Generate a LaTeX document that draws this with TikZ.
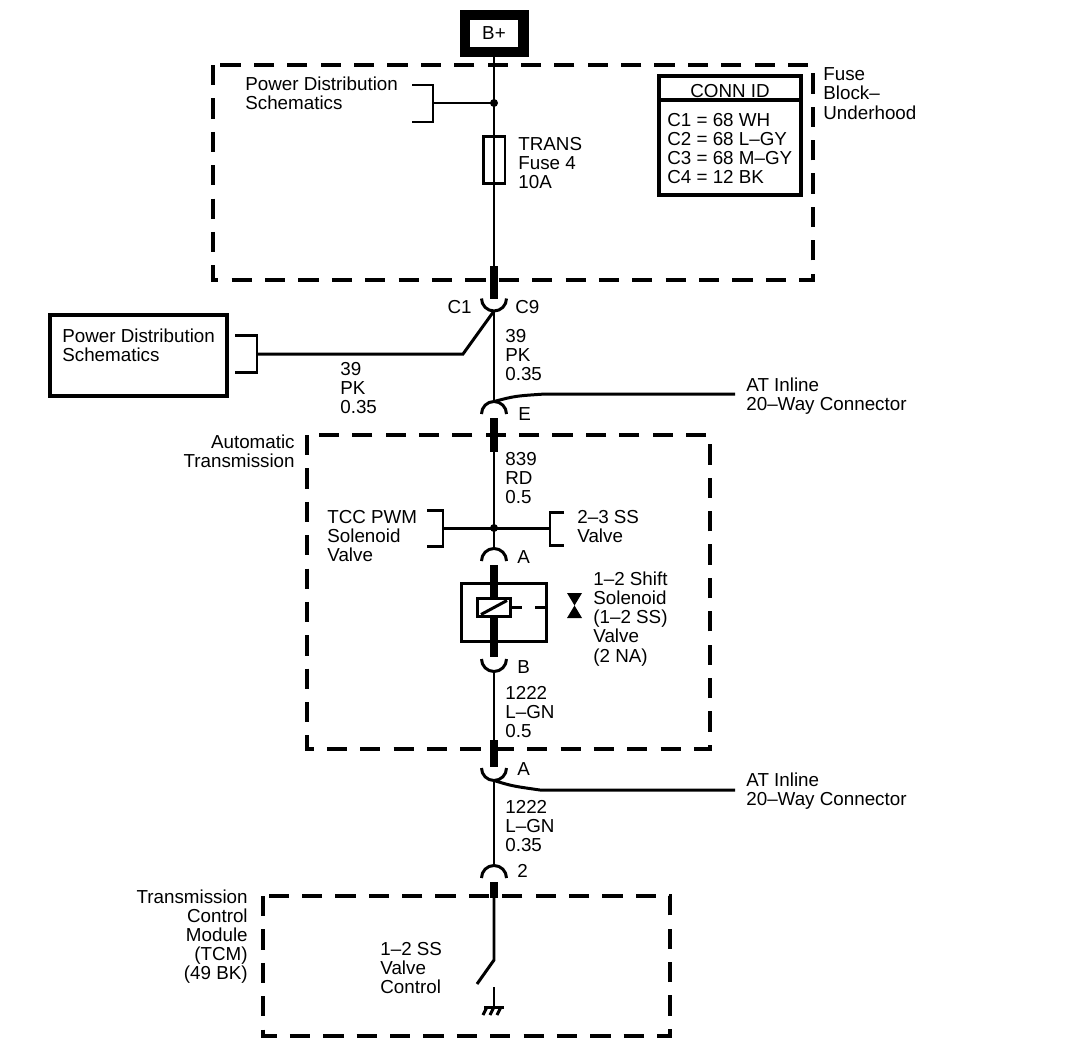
\documentclass[tikz,border=0pt]{standalone}
\usepackage{fontspec}
\setmainfont{Liberation Sans}
\usetikzlibrary{positioning}
\tikzset{
  wire/.style={line width=1.7pt},
  stub/.style={line width=5pt},
  frame/.style={line width=2.3pt, dash pattern=on 11.5pt off 7.5pt},
  boxline/.style={draw, line width=2.3pt, inner sep=0pt},
  txt/.style={inner sep=0pt, align=left, anchor=base west},
  rtxt/.style={inner sep=0pt, align=right, anchor=base east},
  every node/.style={font=\fontsize{10.7}{10.9}\selectfont},
}
\begin{document}
\begin{tikzpicture}[x=0.02cm, y=-0.02cm]
\useasboundingbox (0,0) rectangle (1072,1052);

% fuse block underhood (text nodes sit on the baseline of their last line)
\draw[frame] (213,65) rectangle (813,280);
\node[draw, line width=5.7pt, minimum width=1.18cm, minimum height=0.74cm, inner sep=0pt] (bplus) at (494,33.5) {B+};
\node[draw, wire, minimum width=0.44cm, minimum height=0.94cm] (fuse) at (494,160) {};
\node[txt] (fuselbl) at (518,188.4) {TRANS\\Fuse 4\\10A};
\node[txt] (pdtop) at (245,109.2) {Power Distribution\\Schematics};
\node[txt] (fbu) at (823,119) {Fuse\\Block–\\Underhood};
\coordinate (jtop) at (494,103);
\coordinate (pdtopbr) at (433,103);
\draw[wire] (412,85) -- (433,85) -- (433,122) -- (412,122);
\draw[wire] (pdtopbr) -- (jtop);
\fill (jtop) circle[radius=0.08cm];

% conn id table
\node[boxline, minimum width=2.84cm, minimum height=2.38cm] (connid) at (730,135.5) {};
\draw[line width=2.3pt] ([yshift=-0.52cm]connid.north west) -- ([yshift=-0.52cm]connid.north east);
\node[anchor=base, inner sep=0pt] (connhead) at (730,97) {CONN ID};
\node[txt] (connrows) at (667,183.6) {C1 = 68 WH\\C2 = 68 L–GY\\C3 = 68 M–GY\\C4 = 12 BK};

% C1 / C9
\coordinate (fbexit) at (494,266);
\coordinate (c1top) at (494,298.5);
\coordinate (c1) at (494,311);
\draw[wire] (bplus.south) -- (fbexit);
\draw[stub] (fbexit) -- (c1top);
\draw[wire] ([xshift=-0.25cm]c1top) arc[start angle=180, end angle=360, radius=0.25cm];
\node[rtxt] (c1lbl) at (472,313) {C1};
\node[txt] (c9lbl) at (515,313) {C9};
\node[txt] (w39a) at (505,380.4) {39\\PK\\0.35};

% left power distribution
\node[boxline, minimum width=3.54cm, minimum height=1.62cm] (pdleft) at (138.5,355.5) {};
\node[txt] (pdlefttxt) at (62,361.2) {Power Distribution\\Schematics};
\draw[wire] (235,335) -- (257,335) -- (257,372) -- (235,372);
\coordinate (pdleftbr) at (257,354);
\coordinate (bend) at (463,354);
\draw[wire] (c1) -- (bend) -- (pdleftbr);
\node[txt] (w39b) at (340,413.4) {39\\PK\\0.35};

% E
\coordinate (etop) at (494,401.5);
\coordinate (ebot) at (494,418);
\coordinate (atin) at (494,452);
\coordinate (atin1) at (735,394);
\draw[wire] (c1) -- (etop);
\draw[wire] (481.5,414) arc[start angle=180, end angle=0, radius=0.25cm];
\draw[wire] (etop) .. controls (515,396) .. (545,394) -- (atin1);
\draw[stub] (ebot) -- (atin);
\node[txt] (elbl) at (518,420) {E};
\node[txt] (atin1txt) at (746,410.2) {AT Inline\\20–Way Connector};

% automatic transmission
\draw[frame] (307,435) rectangle (710,749);
\node[rtxt] (attxt) at (295,467.2) {Automatic\\Transmission};
\node[txt] (w839) at (505,503.4) {839\\RD\\0.5};
\coordinate (jat) at (494,528);
\coordinate (atop) at (494,548.5);
\coordinate (tccbr) at (443,528);
\coordinate (ssbr) at (550,528);
\draw[wire] (atin) -- (jat) -- (atop);
\draw[wire] (tccbr) -- (ssbr);
\draw[wire] (427,510) -- (443,510) -- (443,546) -- (427,546);
\draw[wire] (564,512) -- (550,512) -- (550,545) -- (564,545);
\fill (jat) circle[radius=0.08cm];
\node[txt] (tcctxt) at (327,561.4) {TCC PWM\\Solenoid\\Valve};
\node[txt] (sstxt) at (577,542.2) {2–3 SS\\Valve};
\draw[wire] (481.5,561) arc[start angle=180, end angle=0, radius=0.25cm];
\node[txt] (albl) at (517,563) {A};

% 1-2 shift solenoid
\node[draw, wire, minimum width=1.7cm, minimum height=1.16cm] (sol) at (504,612.5) {};
\node[draw, wire, minimum width=0.66cm, minimum height=0.36cm] (coil) at (494,607.5) {};
\draw[wire] ([shift={(0.1cm,0.07cm)}]coil.south west) -- ([shift={(-0.1cm,-0.07cm)}]coil.north east);
\draw[stub] (494,565) -- (coil.north);
\draw[stub] (coil.south) -- (494,657);
\draw[wire, dash pattern=on 5.7pt off 7.4pt] (coil.east) -- (coil.east -| sol.east);
\fill (567,593) -- (582,593) -- (567,618) -- (582,618) -- cycle;
\node[txt] (soltxt) at (593,662) {1–2 Shift\\Solenoid\\(1–2 SS)\\Valve\\(2 NA)};

% B
\coordinate (b) at (494,671.5);
\coordinate (atout) at (494,740);
\coordinate (atoutb) at (494,767);
\draw[wire] (481.5,659) arc[start angle=180, end angle=360, radius=0.25cm];
\node[txt] (blbl) at (517,673) {B};
\node[txt] (w1222a) at (505,737.4) {1222\\L–GN\\0.5};
\draw[wire] (b) -- (atout);
\draw[stub] (atout) -- (atoutb);

% A
\coordinate (a2) at (494,780.5);
\coordinate (atin2) at (735,790);
\draw[wire] (481.5,768) arc[start angle=180, end angle=360, radius=0.25cm];
\draw[wire] (a2) .. controls (512,786) .. (540,790) -- (atin2);
\node[txt] (a2lbl) at (517,775) {A};
\node[txt] (atin2txt) at (746,805.2) {AT Inline\\20–Way Connector};
\node[txt] (w1222b) at (505,851.4) {1222\\L–GN\\0.35};

% 2
\coordinate (p2top) at (494,865.5);
\coordinate (p2b) at (494,882);
\coordinate (tcmin) at (494,898);
\draw[wire] (a2) -- (p2top);
\draw[wire] (481.5,878) arc[start angle=180, end angle=0, radius=0.25cm];
\draw[stub] (p2b) -- (tcmin);
\node[txt] (p2lbl) at (517,877) {2};

% transmission control module
\draw[frame] (263,896) rectangle (670,1036);
\node[rtxt] (tcmtxt) at (248,979.8) {Transmission\\Control\\Module\\(TCM)\\(49 BK)};
\node[txt] (ctrltxt) at (380,993.4) {1–2 SS\\Valve\\Control};
\coordinate (sw) at (494,960);
\coordinate (blade) at (477,984);
\coordinate (gnd) at (494,1007);
\draw[wire] (tcmin) -- (sw) -- (blade);
\draw[wire] (494,987) -- (gnd);
\draw[wire] (484,1007) -- (504,1007);
\foreach \x in {487,494,501} \draw[wire] (\x,1007) -- (\x-4,1015);
\end{tikzpicture}
\end{document}
